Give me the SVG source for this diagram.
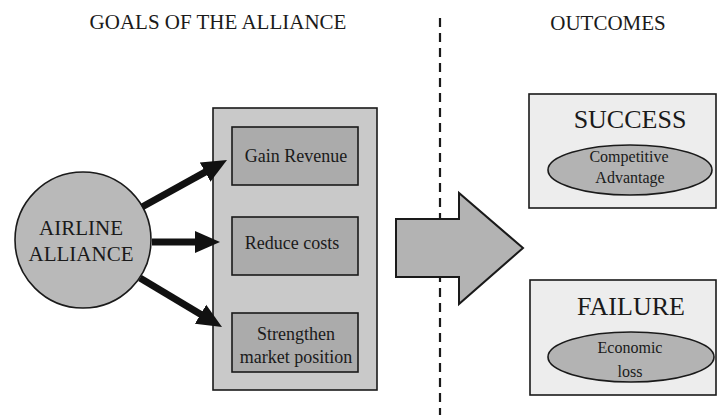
<svg xmlns="http://www.w3.org/2000/svg" width="717" height="420" viewBox="0 0 717 420">
<style>
text{font-family:"Liberation Serif","Times New Roman",serif;fill:#1a1a1a;text-anchor:middle}
.hdr{font-size:21px}
.big{font-size:26px}
.mid{font-size:18px}
.sm{font-size:16px}
.box{stroke:#1a1a1a;stroke-width:1.6}
.conn{stroke:#111;stroke-width:7;fill:none}
</style>
<defs>
<marker id="ah" markerUnits="userSpaceOnUse" markerWidth="26" markerHeight="24" refX="1" refY="12" orient="auto">
<path d="M0,1 L25,12 L0,23 Z" fill="#111"/>
</marker>
</defs>
<rect width="717" height="420" fill="#ffffff"/>
<g id="headers">
<text class="hdr" x="218" y="29">GOALS OF THE ALLIANCE</text>
<text class="hdr" x="608" y="30">OUTCOMES</text>
</g>
<g id="divider">
<line x1="440" y1="18" x2="440" y2="415" stroke="#1a1a1a" stroke-width="2.2" stroke-dasharray="9 6"/>
</g>
<g id="airline-alliance">
<circle cx="83" cy="240" r="68" fill="#b9b9b9" class="box"/>
<text class="hdr" x="81" y="235">AIRLINE</text>
<text class="hdr" x="81" y="261">ALLIANCE</text>
</g>
<g id="goals">
<rect x="213" y="108" width="164" height="282" fill="#c9c9c9" class="box"/>
</g>
<g id="gain-revenue">
<rect x="232" y="127" width="126" height="58" fill="#ababab" class="box"/>
<text class="mid" x="296" y="162">Gain Revenue</text>
</g>
<g id="reduce-costs">
<rect x="232" y="217" width="126" height="58" fill="#ababab" class="box"/>
<text class="mid" x="292" y="249">Reduce costs</text>
</g>
<g id="strengthen">
<rect x="232" y="313" width="126" height="59" fill="#ababab" class="box"/>
<text class="mid" x="296" y="340">Strengthen</text>
<text class="mid" x="296" y="363">market position</text>
</g>
<g id="connectors">
<line class="conn" x1="142" y1="207" x2="206" y2="171.6" marker-end="url(#ah)"/>
<line class="conn" x1="152" y1="242" x2="196" y2="242" marker-end="url(#ah)"/>
<line class="conn" x1="140" y1="278" x2="201.4" y2="314.7" marker-end="url(#ah)"/>
</g>
<g id="block-arrow">
<path d="M396,219 L459,219 L459,193 L523,248 L459,304 L459,277 L396,277 Z" fill="#b3b3b3" stroke="#1a1a1a" stroke-width="2"/>
</g>
<g id="success">
<rect x="529" y="94" width="187" height="114" fill="#ededed" class="box"/>
<text class="big" x="630" y="128">SUCCESS</text>
<ellipse cx="630" cy="170" rx="82" ry="25" fill="#b3b3b3" class="box"/>
<text class="sm" x="629" y="162">Competitive</text>
<text class="sm" x="630" y="183">Advantage</text>
</g>
<g id="failure">
<rect x="530" y="280" width="186" height="115" fill="#ededed" class="box"/>
<text class="big" x="631" y="315">FAILURE</text>
<ellipse cx="631" cy="357" rx="83" ry="25" fill="#b3b3b3" class="box"/>
<text class="sm" x="630" y="353">Economic</text>
<text class="sm" x="630" y="377">loss</text>
</g>
</svg>
